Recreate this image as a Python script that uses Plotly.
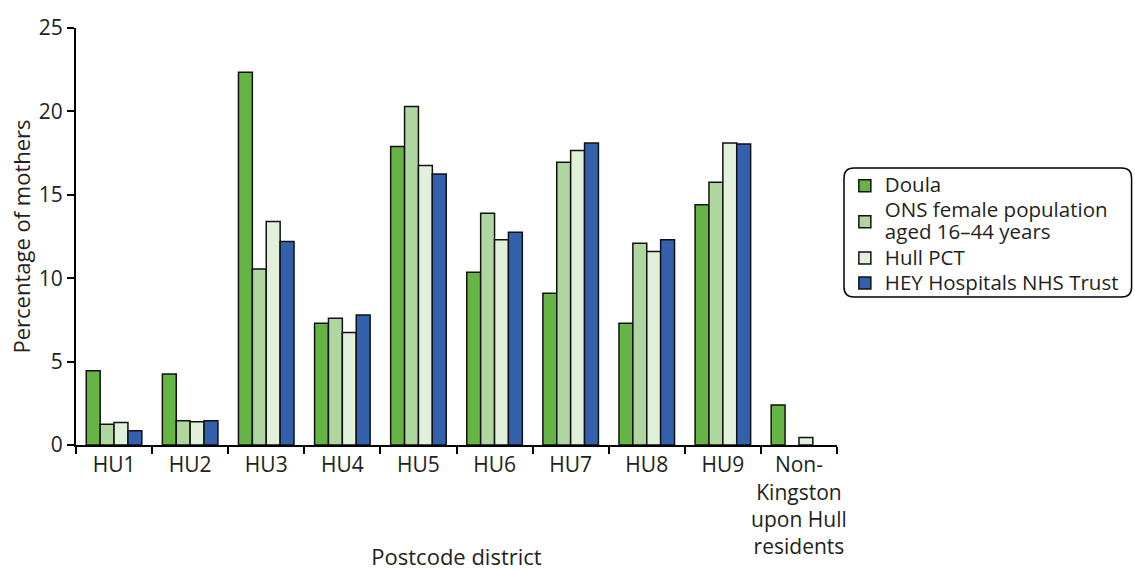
import plotly.graph_objects as go

categories = ["HU1", "HU2", "HU3", "HU4", "HU5", "HU6", "HU7", "HU8", "HU9",
              "Non-<br>Kingston<br>upon Hull<br>residents"]
doula = [4.45, 4.25, 22.35, 7.3, 17.9, 10.35, 9.1, 7.3, 14.4, 2.4]
ons = [1.25, 1.45, 10.55, 7.6, 20.3, 13.9, 16.95, 12.1, 15.75, None]
hull_pct = [1.35, 1.4, 13.4, 6.75, 16.75, 12.3, 17.65, 11.6, 18.1, 0.45]
hey = [0.85, 1.45, 12.2, 7.8, 16.25, 12.75, 18.1, 12.3, 18.05, None]

series_names = ["Doula", ["ONS female population", "aged 16–44 years"], "Hull PCT",
                "HEY Hospitals NHS Trust"]
series_values = [doula, ons, hull_pct, hey]
series_colors = ["#66b446", "#b0d6a0", "#e1f0da", "#3461ad"]

FONT = "Open Sans"
TXT = "#231f20"
LEG_SIZE = 20.5


def legend_label(name):
    lines = name if isinstance(name, list) else [name]
    return "<br>".join(f"<span style='font-size:{LEG_SIZE}px'>{ln}</span>" for ln in lines)


fig = go.Figure()
for name, vals, col in zip(series_names, series_values, series_colors):
    fig.add_trace(go.Bar(
        x=categories, y=vals, name=legend_label(name),
        marker=dict(color=col, line=dict(color="#111111", width=1.5)),
    ))

fig.update_layout(
    width=1135, height=571,
    margin=dict(l=76, r=297, t=28, b=126),
    paper_bgcolor="white", plot_bgcolor="white",
    font=dict(family=FONT, size=20, color=TXT),
    barmode="group", bargap=0.27, bargroupgap=0,
    showlegend=True,
    legend=dict(
        x=1.009, y=0.664, xanchor="left", yanchor="top",
        bgcolor="rgba(0,0,0,0)", borderwidth=0,
        font=dict(family=FONT, size=17, color=TXT),
        tracegroupgap=0, itemwidth=30,
    ),
    xaxis=dict(
        showline=True, linecolor="black", linewidth=2,
        ticks="outside", tickson="boundaries", ticklen=7, tickwidth=2, tickcolor="black",
        showgrid=False, tickfont=dict(size=21, color=TXT), tickangle=0,
        automargin=False,
        title=dict(text="Postcode district", font=dict(size=22, color=TXT), standoff=102),
    ),
    yaxis=dict(
        range=[0, 25], tickvals=[0, 5, 10, 15, 20, 25],
        showline=True, linecolor="black", linewidth=2,
        ticks="outside", ticklen=7, tickwidth=2, tickcolor="black",
        showgrid=False, zeroline=False, tickfont=dict(size=21, color=TXT),
        automargin=False,
        title=dict(text="Percentage of mothers", font=dict(size=22, color=TXT), standoff=2),
    ),
    shapes=[dict(
        type="path", xref="paper", yref="paper",
        path="M 1.0223,0.6643 L 1.3740,0.6643 Q 1.3871,0.6643 1.3871,0.6403 "
             "L 1.3871,0.3789 Q 1.3871,0.3549 1.3740,0.3549 L 1.0223,0.3549 "
             "Q 1.0092,0.3549 1.0092,0.3789 L 1.0092,0.6403 Q 1.0092,0.6643 1.0223,0.6643 Z",
        line=dict(color="black", width=1.5), fillcolor="rgba(0,0,0,0)",
    )],
)

fig.write_html(
    "out.html",
    config={"displayModeBar": False},
    post_script="document.body.style.margin='0';document.body.style.overflow='hidden';",
)
